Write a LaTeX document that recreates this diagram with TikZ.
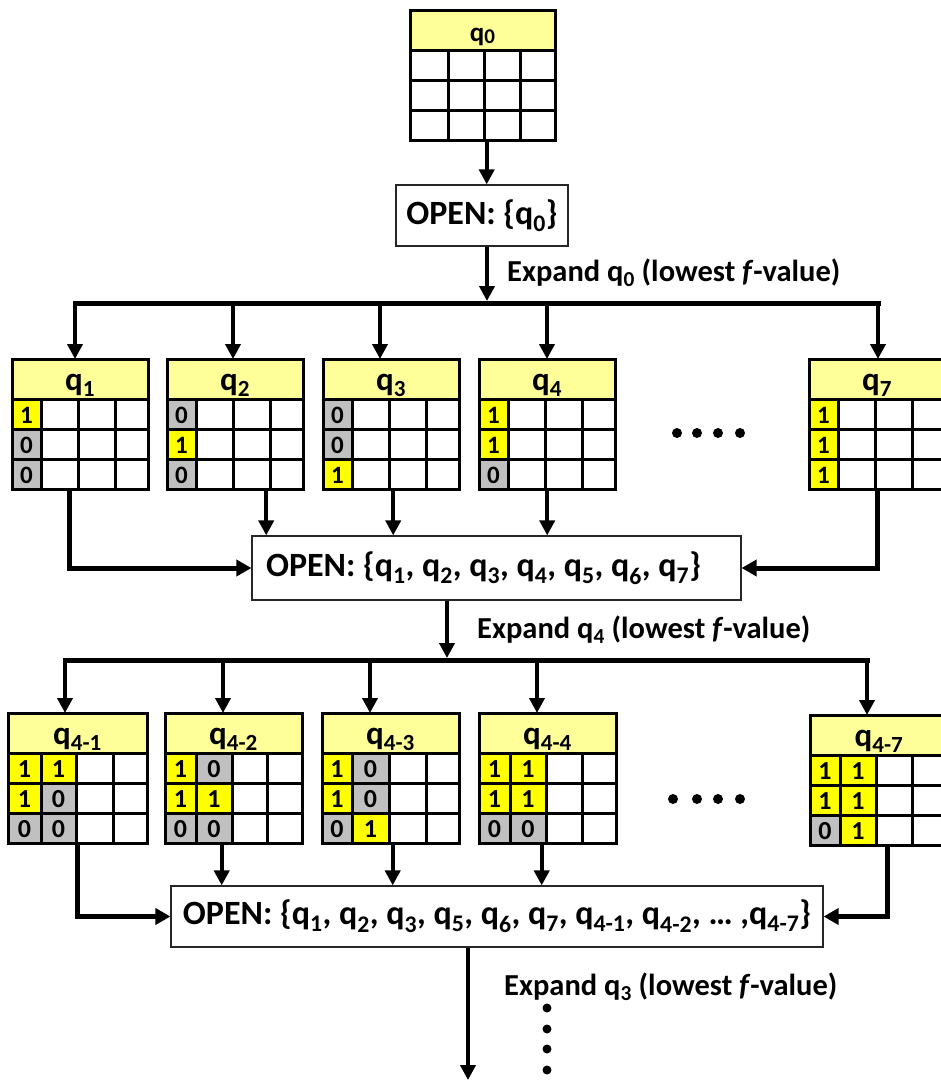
\documentclass[tikz,border=0pt]{standalone}
\usepackage{fontspec}
\setmainfont{Carlito}
\usetikzlibrary{arrows.meta,calc}
\definecolor{hdr}{HTML}{FFFF99}
\definecolor{cy}{HTML}{FFFF00}
\definecolor{cg}{HTML}{C0C0C0}
\tikzset{
  grid/.style={line width=3pt, black},
  hdrtext/.style={font=\fontsize{33}{36}\selectfont\bfseries, inner sep=0pt, anchor=base},
  digit/.style={font=\fontsize{24}{26}\selectfont\bfseries, inner sep=0pt},
  tabnode/.style={draw=none, inner sep=0pt, anchor=north west},
  openbox/.style={draw=black!85, line width=1.2pt, fill=white, inner sep=0pt, font=\fontsize{34}{38}\selectfont\bfseries},
  lbl/.style={font=\fontsize{30.5}{34}\selectfont\bfseries, inner sep=0pt, anchor=west},
  arr/.style={line width=4pt, -{Triangle[width=15pt,length=15pt]}},
  side/.style={line width=5pt, -{Triangle[width=16pt,length=15pt]}},
  bar/.style={line width=5pt, line cap=rect},
}
% #1 name, #2 x, #3 y, #4 header, #5 #6 #7 column boundaries, #8 width, #9 cells
\newcommand\qtable[9]{%
 \begin{scope}[shift={(#2,#3)}]
  \fill[hdr] (0,0) rectangle (#8,40);
  \foreach \c/\r/\v in {#9}{%
    \ifnum\c=1 \def\xa{0}\def\xb{#5}\else\def\xa{#5}\def\xb{#6}\fi
    \pgfmathsetmacro\ya{10+30*\r}
    \pgfmathsetmacro\yb{40+30*\r}
    \ifnum\v=1 \def\cc{cy}\else\def\cc{cg}\fi
    \fill[\cc] (\xa,\ya) rectangle (\xb,\yb);
    \node[digit] at ({(\xa+\xb)/2},{(\ya+\yb)/2+1}) {\v};
  }
  \draw[grid] (0,0) rectangle (#8,130);
  \draw[grid] (0,40) -- (#8,40) (0,70) -- (#8,70) (0,100) -- (#8,100)
     (#5,40) -- (#5,130) (#6,40) -- (#6,130) (#7,40) -- (#7,130);
  \node[hdrtext] at ({#8/2},31) {#4};
 \end{scope}
 \node[tabnode, minimum width=#8, minimum height=130] (#1) at (#2,#3) {};
}
\begin{document}
\begin{tikzpicture}[x=1pt,y=-1pt]
\clip (0,0) rectangle (941,1080);
\useasboundingbox (0,0) rectangle (941,1080);
\fill[white] (0,0) rectangle (941,1080);

% ---- q0
\qtable{q0}{410}{10}{{\fontsize{27}{30}\selectfont q\raisebox{-0.2ex}{\fontsize{21}{24}\selectfont 0}}}{38}{74}{110}{145}{}
\node[openbox, minimum width=172, minimum height=61] (open0) at (482,215.5) {OPEN: \{q\textsubscript{0}\}};
\draw[arr] ([xshift=4pt]q0.south) -- ([xshift=4pt]q0.south |- open0.north);

% ---- expand 1
\coordinate (e0) at (487,301);
\draw[arr] (open0.south -| e0) -- (e0);
\node[lbl] (lab0) at (507,273) {Expand q\textsubscript{0} (lowest \textit{f}-value)};
\coordinate (b11) at (75,303);
\coordinate (b12) at (233,303);
\coordinate (b13) at (380,303);
\coordinate (b14) at (547,303);
\coordinate (b17) at (878,303);
\draw[bar] (b11) -- (b17);

% ---- row 1 tables
\tikzset{digit/.style={font=\fontsize{25}{28}\selectfont\bfseries, inner sep=0pt}}
\qtable{q1}{12}{359}{q\textsubscript{1}}{29}{66}{103}{136}{1/1/1,1/2/0,1/3/0}
\qtable{q2}{167}{359}{q\textsubscript{2}}{29}{66}{103}{136}{1/1/0,1/2/1,1/3/0}
\qtable{q3}{323}{359}{q\textsubscript{3}}{29}{66}{103}{136}{1/1/0,1/2/0,1/3/1}
\qtable{q4}{479}{359}{q\textsubscript{4}}{29}{66}{103}{136}{1/1/1,1/2/1,1/3/0}
\qtable{q7}{809}{359}{q\textsubscript{7}}{29}{66}{103}{136}{1/1/1,1/2/1,1/3/1}
\foreach \b/\t in {b11/q1,b12/q2,b13/q3,b14/q4,b17/q7}{
  \draw[arr] (\b) -- (\b |- \t.north);
}
\foreach \x in {677,697,718,740}{ \fill (\x,433) circle (5); }

% ---- open 1
\node[openbox, minimum width=489, minimum height=64] (open1) at (496.5,568)
  {OPEN: \{q\textsubscript{1}, q\textsubscript{2}, q\textsubscript{3}, q\textsubscript{4}, q\textsubscript{5}, q\textsubscript{6}, q\textsubscript{7}\}\hspace*{26pt}};
\draw[side] ([xshift=-11pt]q1.south) |- (open1.west);
\draw[side] ([xshift=0pt]q7.south) |- (open1.east);
\draw[arr] ([xshift=31pt]q2.south) -- ([xshift=31pt]q2.south |- open1.north);
\draw[arr] ([xshift=2pt]q3.south) -- ([xshift=2pt]q3.south |- open1.north);
\draw[arr] (q4.south) -- (q4.south |- open1.north);

% ---- expand 2
\coordinate (e1) at (447,658);
\draw[arr] (open1.south -| e1) -- (e1);
\node[lbl] (lab1) at (477,630) {Expand q\textsubscript{4} (lowest \textit{f}-value)};
\coordinate (b21) at (65,660);
\coordinate (b22) at (223,660);
\coordinate (b23) at (370,660);
\coordinate (b24) at (537,660);
\coordinate (b27) at (867,660);
\draw[bar] (b21) -- (b27);

% ---- row 2 tables
\tikzset{digit/.style={font=\fontsize{26}{28}\selectfont\bfseries, inner sep=0pt}}
\qtable{q41}{8}{713}{q\textsubscript{4-1}}{33}{68}{105}{139}{1/1/1,2/1/1,1/2/1,2/2/0,1/3/0,2/3/0}
\qtable{q42}{165}{713}{q\textsubscript{4-2}}{31}{67}{102}{137}{1/1/1,2/1/0,1/2/1,2/2/1,1/3/0,2/3/0}
\qtable{q43}{322}{713}{q\textsubscript{4-3}}{30}{67}{104}{137}{1/1/1,2/1/0,1/2/1,2/2/0,1/3/0,2/3/1}
\qtable{q44}{479}{713}{q\textsubscript{4-4}}{31}{67}{103}{137}{1/1/1,2/1/1,1/2/1,2/2/1,1/3/0,2/3/0}
\qtable{q47}{810}{715}{q\textsubscript{4-7}}{30}{66}{102}{138}{1/1/1,2/1/1,1/2/1,2/2/1,1/3/0,2/3/1}
\foreach \b/\t in {b21/q41,b22/q42,b23/q43,b24/q44,b27/q47}{
  \draw[arr] (\b) -- (\b |- \t.north);
}
\foreach \x in {673,697,718,740}{ \fill (\x,799) circle (5); }

% ---- open 2
\node[openbox, minimum width=652, minimum height=61] (open2) at (497,916.5)
  {OPEN: \{q\textsubscript{1}, q\textsubscript{2}, q\textsubscript{3}, q\textsubscript{5}, q\textsubscript{6}, q\textsubscript{7}, q\textsubscript{4-1}, q\textsubscript{4-2}, \dots\ ,q\textsubscript{4-7}\}};
\draw[side] (q41.south) |- (open2.west);
\draw[side] ([xshift=8pt]q47.south) |- (open2.east);
\draw[arr] ([xshift=-12pt]q42.south) -- ([xshift=-12pt]q42.south |- open2.north);
\draw[arr] ([xshift=2pt]q43.south) -- ([xshift=2pt]q43.south |- open2.north);
\draw[arr] ([xshift=-6pt]q44.south) -- ([xshift=-6pt]q44.south |- open2.north);

% ---- expand 3
\coordinate (e2) at (468,1080);
\draw[arr] (open2.south -| e2) -- (e2);
\node[lbl] (lab2) at (504,987) {Expand q\textsubscript{3} (lowest \textit{f}-value)};
\foreach \y in {1008,1029,1049,1070}{ \fill (547,\y) circle (4.5); }
\end{tikzpicture}
\end{document}
